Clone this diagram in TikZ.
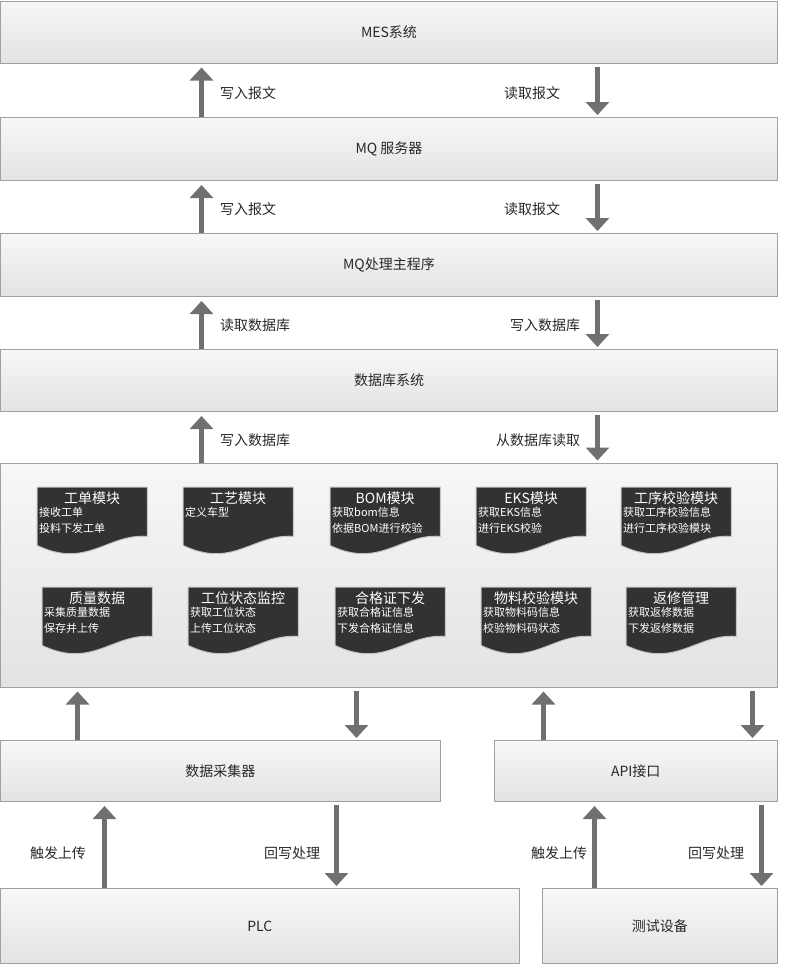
\documentclass[tikz,border=0pt]{standalone}
\usepackage{fontspec}
\newfontfamily\cjk{Noto Sans CJK SC}
\usetikzlibrary{arrows.meta, positioning, calc}
\definecolor{cBoxTop}{RGB}{247,247,247}
\definecolor{cBoxBot}{RGB}{227,227,227}
\definecolor{cBoxLine}{RGB}{160,160,160}
\definecolor{cArrow}{RGB}{112,112,112}
\definecolor{cDoc}{RGB}{50,50,50}
\definecolor{cDocLine}{RGB}{195,195,195}
\definecolor{cText}{RGB}{40,40,40}
\tikzset{
  layer/.style={rectangle, draw=cBoxLine, line width=1pt, top color=cBoxTop,
                bottom color=cBoxBot, inner sep=0pt, text=cText,
                font=\cjk\fontsize{14}{16}\selectfont},
  %% arrows
  flow/.style={-{Triangle[length=13pt, width=23pt]}, line width=5pt, draw=cArrow},
  flowup/.style={flow, shorten >=4pt},
  flowdown/.style={flow, shorten <=3pt, shorten >=2pt},
  lbl/.style={inner sep=0pt, text=cText, font=\cjk\fontsize{14}{16}\selectfont},
  %% module sheets
  docbox/.style={rectangle, minimum width=110pt, minimum height=68pt,
                 inner sep=0pt, anchor=north west},
  docfill/.style={fill=cDoc, draw=cDocLine, line width=1pt},
  modtitle/.style={inner sep=0pt, text=white, font=\cjk\fontsize{14}{16}\selectfont},
  moditems/.style={inner sep=0pt, text=white, align=left, anchor=north west,
                   font=\cjk\fontsize{11}{16}\selectfont},
}
%% one module sheet: name, left, top, title, lines
\newcommand{\module}[5]{%
  \node[docbox] (#1) at (#2,#3) {};
  \filldraw[docfill] (#1.north west) -- (#1.north east)
    -- ([yshift=19pt]#1.south east)
    .. controls ([xshift=-40pt,yshift=22pt]#1.south east)
       and ([xshift=50pt,yshift=-14pt]#1.south west)
    .. ([yshift=10pt]#1.south west) -- cycle;
  \node[modtitle] (#1t) at ([yshift=-11pt]#1.north) {#4};
  \node[moditems] (#1i) at ([xshift=2pt,yshift=-20pt]#1.north west) {#5};
}

\begin{document}
\begin{tikzpicture}[x=1pt, y=-1pt]
\useasboundingbox (0,0) rectangle (800,964);

%% ============================================================
%%  LAYERS (full width)
%% ============================================================
\def\W{777}
\node[layer, minimum width=\W pt, minimum height=62pt] (mes) at (389, 32)    {MES系统};
\node[layer, minimum width=\W pt, minimum height=63pt] (mq)  at (389, 149) {MQ 服务器};
\node[layer, minimum width=\W pt, minimum height=63pt] (mqp) at (389, 265) {MQ处理主程序};
\node[layer, minimum width=\W pt, minimum height=62pt] (db)  at (389, 380.5)   {数据库系统};
\node[layer, minimum width=\W pt, minimum height=224pt] (mods) at (389, 575) {};

%% ----- lower layer -----
\node[layer, minimum width=439.5pt, minimum height=61pt] (coll)   at (220.25, 771) {数据采集器};
\node[layer, minimum width=283.5pt, minimum height=61pt] (api)    at (635.75, 771) {API接口};
\node[layer, minimum width=518.5pt, minimum height=75pt] (plc)    at (259.75, 926) {PLC};
\node[layer, minimum width=235.5pt, minimum height=75pt] (tester) at (659.75, 926) {测试设备};

%% ============================================================
%%  ARROWS between the full-width layers
%% ============================================================
\def\xu{201.5pt}
\def\xd{597.5pt}
\draw[flowup] ([xshift=\xu]mq.north west) -- ([xshift=\xu]mq.north west |- mes.south)
  node[lbl, pos=0.45, right=16pt] (w1) {写入报文};
\draw[flowdown] ([xshift=\xd]mes.south west) -- ([xshift=\xd]mes.south west |- mq.north)
  node[lbl, pos=0.55, left=35pt] (r1) {读取报文};

\draw[flowup] ([xshift=\xu]mqp.north west) -- ([xshift=\xu]mqp.north west |- mq.south)
  node[lbl, pos=0.45, right=16pt] (w2) {写入报文};
\draw[flowdown] ([xshift=\xd]mq.south west) -- ([xshift=\xd]mq.south west |- mqp.north)
  node[lbl, pos=0.55, left=35pt] (r2) {读取报文};

\draw[flowup] ([xshift=\xu]db.north west) -- ([xshift=\xu]db.north west |- mqp.south)
  node[lbl, pos=0.45, right=16pt] (w3) {读取数据库};
\draw[flowdown] ([xshift=\xd]mqp.south west) -- ([xshift=\xd]mqp.south west |- db.north)
  node[lbl, pos=0.55, left=15pt] (r3) {写入数据库};

\draw[flowup] ([xshift=\xu]mods.north west) -- ([xshift=\xu]mods.north west |- db.south)
  node[lbl, pos=0.45, right=16pt] (w4) {写入数据库};
\draw[flowdown] ([xshift=\xd]db.south west) -- ([xshift=\xd]db.south west |- mods.north)
  node[lbl, pos=0.55, left=15pt] (r4) {从数据库读取};

%% ============================================================
%%  MODULES
%% ============================================================
\module{m1}{37}{487}{工单模块}{接收工单\\投料下发工单}
\module{m2}{183}{487}{工艺模块}{定义车型}
\module{m3}{330}{487}{BOM模块}{获取bom信息\\依据BOM进行校验}
\module{m4}{476}{487}{EKS模块}{获取EKS信息\\进行EKS校验}
\module{m5}{621}{487}{工序校验模块}{获取工序校验信息\\进行工序校验模块}

\module{m6}{42}{587}{质量数据}{采集质量数据\\保存并上传}
\module{m7}{188}{587}{工位状态监控}{获取工位状态\\上传工位状态}
\module{m8}{335}{587}{合格证下发}{获取合格证信息\\下发合格证信息}
\module{m9}{481}{587}{物料校验模块}{获取物料码信息\\校验物料码状态}
\module{m10}{626}{587}{返修管理}{获取返修数据\\下发返修数据}

%% ============================================================
%%  LOWER ARROWS
%% ============================================================
\draw[flowup] ([xshift=77.5pt]coll.north west) -- ([xshift=77.5pt]coll.north west |- mods.south);
\draw[flowdown] ([xshift=356.5pt]coll.north west |- mods.south) -- ([xshift=356.5pt]coll.north west);
\draw[flowup] ([xshift=50pt]api.north west) -- ([xshift=50pt]api.north west |- mods.south);
\draw[flowdown] ([xshift=259pt]api.north west |- mods.south) -- ([xshift=259pt]api.north west);

\draw[flowup] ([xshift=104.5pt]plc.north west) -- ([xshift=104.5pt]plc.north west |- coll.south)
  node[lbl, pos=0.4, left=16pt] (up1) {触发上传};
\draw[flowdown] ([xshift=336.5pt]plc.north west |- coll.south) -- ([xshift=336.5pt]plc.north west)
  node[lbl, pos=0.6, left=14pt] (back1) {回写处理};
\draw[flowup] ([xshift=53pt]tester.north west) -- ([xshift=53pt]tester.north west |- api.south)
  node[lbl, pos=0.4, left=5pt] (up2) {触发上传};
\draw[flowdown] ([xshift=220pt]tester.north west |- api.south) -- ([xshift=220pt]tester.north west)
  node[lbl, pos=0.6, left=15pt] (back2) {回写处理};

\end{tikzpicture}
\end{document}
